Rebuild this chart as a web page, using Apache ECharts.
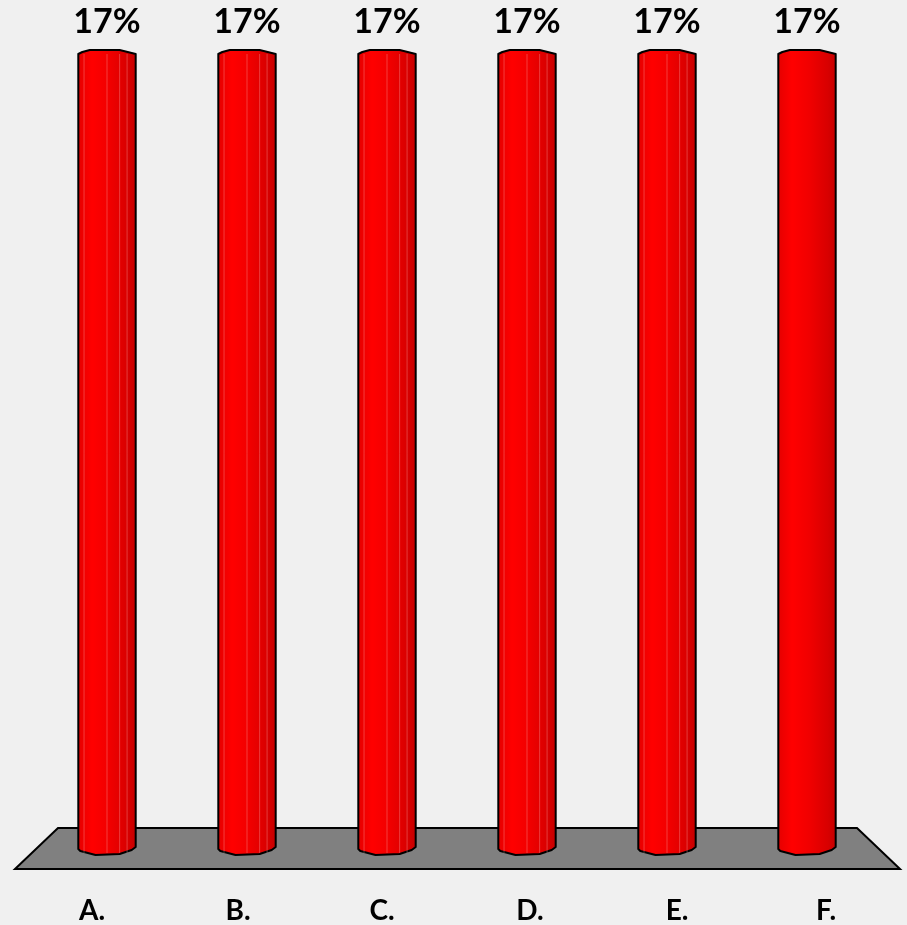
<!DOCTYPE html>
<html>
<head>
<meta charset="utf-8">
<script src="https://cdn.jsdelivr.net/npm/echarts@6/dist/echarts.min.js"></script>
<style>
html,body{margin:0;padding:0;background:#f0f0f0;}
#chart{width:907px;height:925px;}
</style>
</head>
<body>
<div id="chart"></div>
<script>
var categories = ['A.', 'B.', 'C.', 'D.', 'E.', 'F.'];
var values = [17, 17, 17, 17, 17, 17];
var valueLabels = ['17%', '17%', '17%', '17%', '17%', '17%'];

var labelShift = [-15, -9, -5, 3, 10, 19];

var chart = echarts.init(document.getElementById('chart'));

var rich = {};
labelShift.forEach(function (d, i) {
  rich['p' + i] = {
    fontFamily: 'Lato', fontWeight: 'bold', fontSize: 28, color: '#000',
    padding: d < 0 ? [0, -2 * d, 0, 0] : [0, 0, 0, 2 * d]
  };
});

function renderFloor(params, api) {
  var cs = params.coordSys;
  var y0 = api.coord([0, 0])[1];
  var L = cs.x, R = cs.x + cs.width;
  return {
    type: 'polygon',
    shape: { points: [[L + 21, y0 - 21], [R - 20, y0 - 21], [R + 23, y0 + 20], [L - 22, y0 + 20]] },
    style: { fill: '#808080', stroke: '#000', lineWidth: 2 },
    z2: 0
  };
}

function renderCyl(params, api) {
  var idx = params.dataIndex;
  var top = api.coord([api.value(0), api.value(1)]);
  var base = api.coord([api.value(0), 0]);
  var w = api.size([1, 0])[0] * 0.41;
  var x0 = top[0] - w / 2, x1 = top[0] + w / 2;
  var yt = top[1], y0 = base[1];
  var pts = [
    [x0, yt + 1], [x0 + 4, yt - 1], [x0 + w * 0.2, yt - 3], [x0 + w * 0.72, yt - 3],
    [x1 - 4, yt], [x1, yt + 1],
    [x1, y0 - 2], [x1 - 4, y0 + 1], [x1 - w * 0.28, y0 + 5], [x0 + w * 0.3, y0 + 6], [x0 + 2, y0 + 2], [x0, y0]
  ];
  var children = [{
    type: 'polygon',
    shape: { points: pts },
    style: {
      fill: new echarts.graphic.LinearGradient(0, 0, 1, 0, [
        { offset: 0, color: '#e40000' },
        { offset: 0.25, color: '#ff0000' },
        { offset: 0.55, color: '#f00000' },
        { offset: 0.85, color: '#d80000' },
        { offset: 1, color: '#c40000' }
      ]),
      stroke: '#000', lineWidth: 2, lineJoin: 'round'
    }
  }];
  if (idx < 5) {
    [0.1, 0.5, 0.72, 0.85].forEach(function (f) {
      children.push({
        type: 'line',
        shape: { x1: x0 + w * f, y1: yt + 1, x2: x0 + w * f, y2: y0 + 4 },
        style: { stroke: 'rgba(255,200,200,0.3)', lineWidth: 1 }
      });
    });
  }
  children.push({
    type: 'text',
    style: {
      text: valueLabels[idx], x: top[0], y: yt - 31,
      align: 'center', verticalAlign: 'middle',
      fontFamily: 'Lato', fontWeight: 'bold', fontSize: 34, fill: '#000'
    }
  });
  return { type: 'group', children: children };
}

chart.setOption({
  backgroundColor: '#f0f0f0',
  animation: false,
  grid: { left: 37, right: 30, top: 53, bottom: 75 },
  xAxis: {
    type: 'category', data: categories,
    axisLine: { show: false }, axisTick: { show: false },
    axisLabel: {
      margin: 48,
      formatter: function (v, i) { return '{p' + i + '|' + v + '}'; },
      rich: rich
    }
  },
  yAxis: { type: 'value', min: 0, max: 17, show: false, splitLine: { show: false } },
  series: [
    { type: 'custom', renderItem: renderFloor, data: [[0, 0]], z: 1, silent: true },
    { type: 'custom', renderItem: renderCyl, data: categories.map(function (c, i) { return [i, values[i]]; }), z: 2 }
  ]
});
</script>
</body>
</html>
